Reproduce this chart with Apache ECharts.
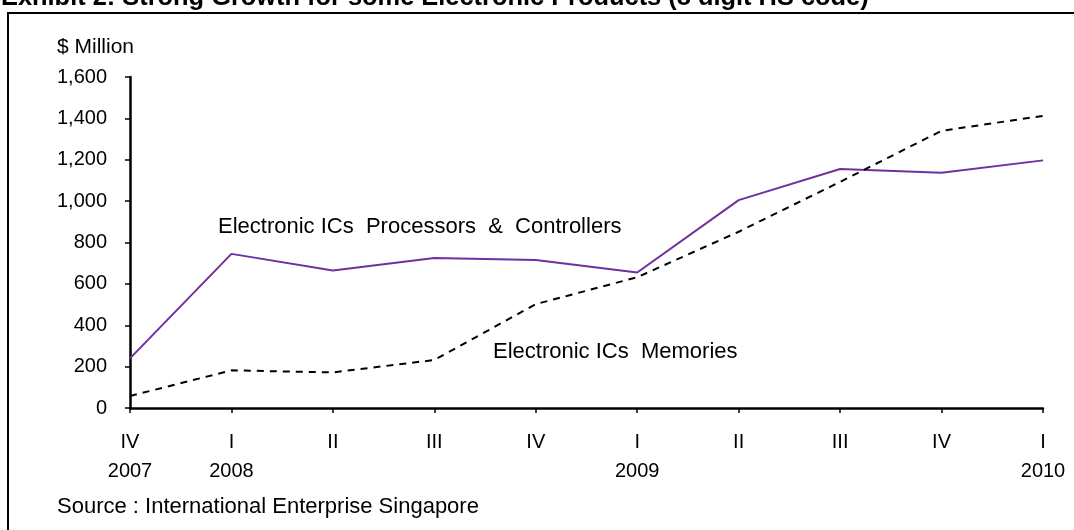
<!DOCTYPE html>
<html><head><meta charset="utf-8">
<script src="https://cdn.jsdelivr.net/npm/echarts@6/dist/echarts.min.js"></script>
<style>html,body{margin:0;padding:0;background:#fff}#c{width:1074px;height:530px}</style>
</head><body><div id="c"></div>
<script>
const categories = ['IV\n2007','I\n2008','II','III','IV','I\n2009','II','III','IV','I\n2010'];
const processors = [240, 745, 665, 725, 715, 655, 1005, 1155, 1137, 1197];
const memories = [58, 182, 172, 232, 502, 632, 852, 1093, 1340, 1412];
const yTicks = {min: 0, max: 1600, interval: 200};

const chart = echarts.init(document.getElementById('c'));
const font = 'Arial, "Liberation Sans", sans-serif';
chart.setOption({
  animation: false,
  backgroundColor: '#fff',
  grid: {left: 130, right: 31, top: 77, bottom: 122},
  xAxis: {
    type: 'category', data: categories, boundaryGap: false,
    axisLine: {lineStyle: {color: '#000', width: 2.5}},
    axisTick: {show: true, length: 5, alignWithLabel: true, lineStyle: {color: '#000', width: 1.5}},
    axisLabel: {color: '#000', fontSize: 20, fontFamily: font, lineHeight: 29, margin: 20, interval: 0},
    splitLine: {show: false}
  },
  yAxis: {
    type: 'value', min: yTicks.min, max: yTicks.max, interval: yTicks.interval,
    axisLine: {show: true, lineStyle: {color: '#000', width: 2.5}},
    axisTick: {show: true, length: 5, lineStyle: {color: '#000', width: 1.5}},
    axisLabel: {color: '#000', fontSize: 20, fontFamily: font, margin: 23,
      formatter: v => v.toLocaleString('en-US')},
    splitLine: {show: false}
  },
  series: [
    {type: 'line', data: processors, symbol: 'none', lineStyle: {color: '#7030A0', width: 2}},
    {type: 'line', data: memories, symbol: 'none', lineStyle: {color: '#000', width: 2, type: [7, 6]}}
  ],
  graphic: [
    {type: 'rect', shape: {x: 8, y: 13, width: 1100, height: 600}, style: {fill: 'none', stroke: '#000', lineWidth: 2}, silent: true},
    {type: 'text', x: 1, y: -2, style: {text: 'Exhibit 2: Strong Growth for some Electronic Products (8 digit HS code)', font: 'bold 25.4px ' + font, fill: '#000', verticalAlign: 'middle'}},
    {type: 'text', x: 57, y: 47, style: {text: '$ Million', font: '21px ' + font, fill: '#000', verticalAlign: 'middle'}},
    {type: 'text', x: 218, y: 227, style: {text: 'Electronic ICs  Processors  &  Controllers', font: '22px ' + font, fill: '#000', verticalAlign: 'middle'}},
    {type: 'text', x: 493, y: 352, style: {text: 'Electronic ICs  Memories', font: '22px ' + font, fill: '#000', verticalAlign: 'middle'}},
    {type: 'text', x: 57, y: 507, style: {text: 'Source : International Enterprise Singapore', font: '22px ' + font, fill: '#000', verticalAlign: 'middle'}}
  ]
});
</script></body></html>
